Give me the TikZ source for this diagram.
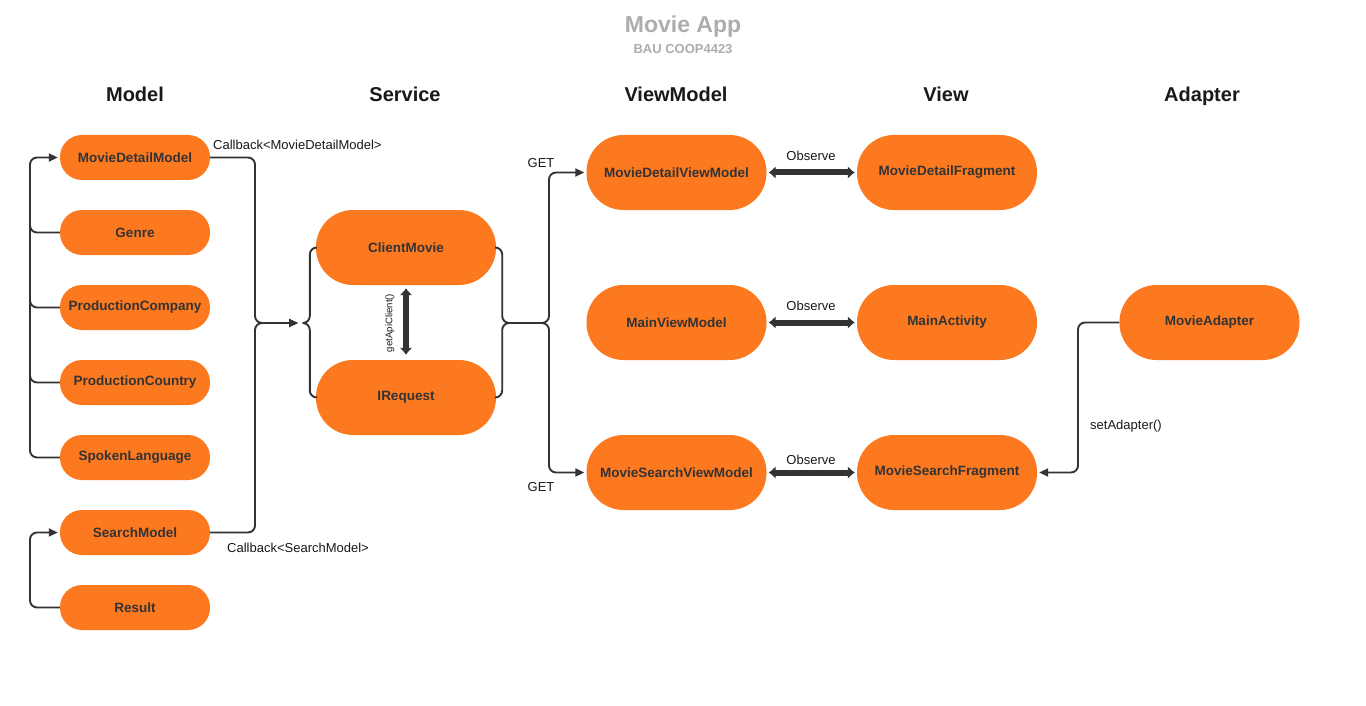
\documentclass[tikz,border=0pt]{standalone}
\usepackage{fontspec}
\setmainfont{Liberation Sans}
\usetikzlibrary{arrows.meta}
\definecolor{orng}{RGB}{252,121,32}
\definecolor{ink}{RGB}{51,51,51}
\definecolor{ttl}{RGB}{173,173,173}
\begin{document}
\begin{tikzpicture}[x=1pt,y=-1pt,
  pillS/.style={fill=orng,draw=none,rounded corners=22pt,minimum width=150pt,minimum height=45pt,inner sep=0pt,font=\fontsize{13.5}{15}\selectfont\bfseries,text=ink},
  pillL/.style={fill=orng,draw=none,rounded corners=37pt,minimum width=180pt,minimum height=75pt,inner sep=0pt,font=\fontsize{13.5}{15}\selectfont\bfseries,text=ink},
  hdr/.style={font=\fontsize{20}{24}\selectfont\bfseries,text=black!90,inner sep=0pt,anchor=base},
  lbl/.style={font=\fontsize{13}{15}\selectfont,text=black!90,inner sep=0pt},
  conn/.style={draw=ink,line width=1.9pt,rounded corners=7pt},
  tip/.style={-{Triangle[length=9pt,width=8pt]}},
  thick2/.style={draw=ink,line width=6pt,{Latex[length=7pt,width=13pt]}-{Latex[length=7pt,width=13pt]}}
]
\useasboundingbox (0,0) rectangle (1366,706);
\fill[white] (0,0) rectangle (1366,706);

% title
\node[font=\fontsize{23}{27}\selectfont\bfseries,text=ttl,inner sep=0pt,anchor=base] (title) at (683,33) {Movie App};
\node[font=\fontsize{13}{15}\selectfont\bfseries,text=ttl,inner sep=0pt,anchor=base] (sub) at (683,54) {BAU COOP4423};

% headers
\node[hdr] (hModel) at (135,102) {Model};
\node[hdr] (hService) at (405,102) {Service};
\node[hdr] (hVM) at (676,102) {ViewModel};
\node[hdr] (hView) at (946,102) {View};
\node[hdr] (hAdapter) at (1202,102) {Adapter};

% model nodes
\node[pillS] (mdm) at (135,157.5) {MovieDetailModel};
\node[pillS] (gen) at (135,232.5) {Genre};
\node[pillS] (pco) at (135,307.5) {ProductionCompany};
\node[pillS] (pcn) at (135,382.5) {ProductionCountry};
\node[pillS] (spl) at (135,457.5) {SpokenLanguage};
\node[pillS] (sm) at (135,532.5) {SearchModel};
\node[pillS] (res) at (135,607.5) {Result};

% service nodes
\node[pillL] (cm) at (406,247.5) {ClientMovie};
\node[pillL] (ir) at (406,397.5) {IRequest};

% viewmodel nodes
\node[pillL] (mdvm) at (676.5,172.5) {MovieDetailViewModel};
\node[pillL] (mvm) at (676.5,322.5) {MainViewModel};
\node[pillL] (msvm) at (676.5,472.5) {MovieSearchViewModel};

% view nodes
\node[pillL] (mdf) at (947,172.5) {MovieDetailFragment};
\node[pillL] (ma) at (947,322.5) {MainActivity};
\node[pillL] (msf) at (947,472.5) {MovieSearchFragment};

% adapter
\node[pillL] (mad) at (1209.5,322.5) {MovieAdapter};

% coordinates
\coordinate (lbx) at (30,0);
\coordinate (jL) at (255,323);
\coordinate (aL) at (298,323);
\coordinate (bL) at (303,323);
\coordinate (bR) at (510,323);
\coordinate (jR) at (549,323);
\coordinate (jA) at (1078,322.5);
\coordinate (g1) at (30,195);
\coordinate (g2) at (30,270);
\coordinate (g3) at (30,345);

% model left bracket
\draw[conn,tip] (spl.west) -| (lbx |- mdm.west) -- ([xshift=-2pt]mdm.west);
\draw[conn] (gen.west) -| (g1);
\draw[conn] (pco.west) -| (g2);
\draw[conn] (pcn.west) -| (g3);
\draw[conn,tip] (res.west) -| (lbx |- sm.west) -- ([xshift=-2pt]sm.west);

% model to service
\draw[conn,tip] (mdm.east) -| (jL) -- (aL);
\draw[conn,tip] (sm.east) -| (jL) -- (aL);

% service braces
\draw[conn] (cm.west) -- ++(-6,0) |- (bL);
\draw[conn] (ir.west) -- ++(-6,0) |- (bL);
\draw[conn] (cm.east) -- ++(6,0) |- (bR);
\draw[conn] (ir.east) -- ++(6,0) |- (bR);

% service to viewmodels
\draw[conn,tip] (bR) -- (jR) |- ([xshift=-2pt]mdvm.west);
\draw[conn,tip] (bR) -- (jR) |- ([xshift=-2pt]msvm.west);

% getApiClient
\draw[thick2] ([yshift=-3pt]cm.south) -- ([yshift=5pt]ir.north);
\node[lbl,font=\fontsize{9.6}{11}\selectfont,rotate=90] (gac) at (390,323) {getApiClient()};

% observe arrows
\draw[thick2] ([xshift=2pt]mdvm.east) -- ([xshift=-2pt]mdf.west);
\draw[thick2] ([xshift=2pt]mvm.east) -- ([xshift=-2pt]ma.west);
\draw[thick2] ([xshift=2pt]msvm.east) -- ([xshift=-2pt]msf.west);
\node[lbl] (ob1) at (811,156) {Observe};
\node[lbl] (ob2) at (811,306) {Observe};
\node[lbl] (ob3) at (811,460) {Observe};

% adapter
\draw[conn,tip] (mad.west) -- (jA) |- ([xshift=2pt]msf.east);

% labels
\node[lbl,anchor=west] (cb1) at (213,145) {Callback<MovieDetailModel>};
\node[lbl,anchor=west] (cb2) at (227,548) {Callback<SearchModel>};
\node[lbl] (get1) at (541,163) {GET};
\node[lbl] (get2) at (541,487) {GET};
\node[lbl,anchor=west] (sa) at (1090,426) {setAdapter()};
\end{tikzpicture}
\end{document}
